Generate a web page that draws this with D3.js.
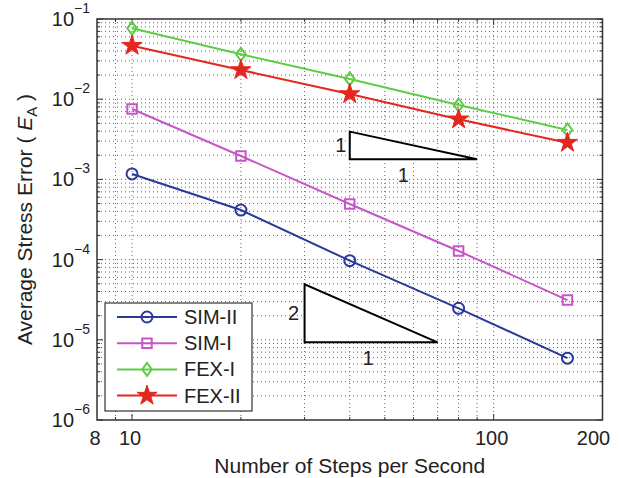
<!DOCTYPE html>
<html><head><meta charset="utf-8">
<script src="https://cdn.jsdelivr.net/npm/d3@7"></script>
<style>body{margin:0;background:#fff}svg{display:block}text{font-family:"Liberation Sans",Arial,sans-serif;fill:#222}</style>
</head><body><svg id="c" width="619" height="478"></svg>
<script>
const steps = [10, 20, 40, 80, 160];
const simII = [1.17e-3, 4.15e-4, 9.7e-5, 2.47e-5, 5.9e-6];
const simI  = [7.55e-3, 1.96e-3, 4.93e-4, 1.28e-4, 3.13e-5];
const fexI  = [7.66e-2, 3.63e-2, 1.79e-2, 8.47e-3, 4.13e-3];
const fexII = [4.65e-2, 2.31e-2, 1.16e-2, 5.61e-3, 2.87e-3];
const seriesNames = ["SIM-II", "SIM-I", "FEX-I", "FEX-II"];
const xTickValues = [8, 10, 100, 200];
const xTickLabels = ["8", "10", "100", "200"];
const yTickExponents = [-1, -2, -3, -4, -5, -6];
// slope triangles in data coordinates: [x0, x1, yBottom, yTop], labels
const triUpper = [40, 90, 1.78e-3, 3.94e-3];
const triUpperLabels = ["1", "1"];
const triLower = [30, 70, 9.3e-6, 4.92e-5];
const triLowerLabels = ["2", "1"];

const svg = d3.select("#c");
const L = 97, R = 602.5, T = 19, B = 420;
const x = d3.scaleLog().domain([8, 200]).range([L, R]);
const y = d3.scaleLog().domain([1e-6, 1e-1]).range([B, T]);

const colors = ["#2a3a9a", "#c755c7", "#5fcd44", "#e4261f"];
const data = [simII, simI, fexI, fexII];
const shapes = ["circle", "square", "diamond", "star"];

// grid
const xGrid = [9, 10, 20, 30, 40, 50, 60, 70, 80, 90, 100];
const yGrid = [];
for (let e = -6; e < -1; e++) for (let k = 1; k < 10; k++) yGrid.push(k * Math.pow(10, e));
yGrid.push(1e-1);
const g = svg.append("g").attr("stroke", "#000").attr("stroke-width", 1).attr("stroke-dasharray", "1,3").attr("opacity", 0.6);
g.selectAll(".vx").data(xGrid).join("line").attr("x1", d => x(d)).attr("x2", d => x(d)).attr("y1", T).attr("y2", B);
g.selectAll(".hy").data(yGrid.filter(d => d > 1e-6 && d < 1e-1)).join("line").attr("y1", d => y(d)).attr("y2", d => y(d)).attr("x1", L).attr("x2", R);

// ticks
const tk = svg.append("g").attr("stroke", "#333").attr("stroke-width", 1);
const xMinor = [9, 20, 30, 40, 50, 60, 70, 80, 90];
const xMajor = [10, 100];
xMinor.forEach(d => { tk.append("line").attr("x1", x(d)).attr("x2", x(d)).attr("y1", B).attr("y2", B - 3);
  tk.append("line").attr("x1", x(d)).attr("x2", x(d)).attr("y1", T).attr("y2", T + 3); });
xMajor.forEach(d => { tk.append("line").attr("x1", x(d)).attr("x2", x(d)).attr("y1", B).attr("y2", B - 6);
  tk.append("line").attr("x1", x(d)).attr("x2", x(d)).attr("y1", T).attr("y2", T + 6); });
yGrid.forEach(d => { const len = (Math.abs(Math.log10(d) - Math.round(Math.log10(d))) < 1e-9) ? 6 : 3;
  tk.append("line").attr("y1", y(d)).attr("y2", y(d)).attr("x1", L).attr("x2", L + len);
  tk.append("line").attr("y1", y(d)).attr("y2", y(d)).attr("x1", R).attr("x2", R - len); });

// axes box
svg.append("rect").attr("x", L).attr("y", T).attr("width", R - L).attr("height", B - T)
  .attr("fill", "none").attr("stroke", "#333").attr("stroke-width", 1.5);

// x tick labels
svg.selectAll(".xt").data(xTickValues).join("text").attr("x", d => x(d)).attr("dx", d => d === 200 ? -9 : -2).attr("y", 445)
  .attr("text-anchor", "middle").attr("font-size", 20).text((d, i) => xTickLabels[i]);

// y tick labels
yTickExponents.forEach(e => {
  const t = svg.append("text").attr("x", 90).attr("y", y(Math.pow(10, e)) + 7).attr("text-anchor", "end").attr("font-size", 20);
  t.append("tspan").text("10");
  t.append("tspan").attr("font-size", 14).attr("dy", -13).text("\u2212" + Math.abs(e));
});

// axis labels
svg.append("text").attr("x", (L + R) / 2).attr("y", 473).attr("text-anchor", "middle").attr("font-size", 21).text("Number of Steps per Second");
const yl = svg.append("text").attr("transform", `translate(32,${(T + B) / 2}) rotate(-90)`).attr("text-anchor", "middle").attr("font-size", 21);
yl.append("tspan").text("Average Stress Error ( ");
yl.append("tspan").attr("font-style", "italic").text("E");
yl.append("tspan").attr("font-size", 15).attr("dy", 5).text("A");
yl.append("tspan").attr("dy", -5).text(" )");

// triangles
function tri(tv, labels, lx, bx, by) {
  const [x0, x1, yb, yt] = tv;
  const p = [[x(x0), y(yt)], [x(x0), y(yb)], [x(x1), y(yb)]];
  svg.append("path").attr("d", d3.line()(p) + "Z").attr("fill", "#fff").attr("stroke", "#000").attr("stroke-width", 2);
  svg.append("text").attr("x", x(x0) - lx).attr("y", (y(yt) + y(yb)) / 2 + 7).attr("text-anchor", "middle").attr("font-size", 20).text(labels[0]);
  svg.append("text").attr("x", (x(x0) + x(x1)) / 2 + bx).attr("y", y(yb) + by).attr("text-anchor", "middle").attr("font-size", 20).text(labels[1]);
}
tri(triUpper, triUpperLabels, 9, -10, 23);
tri(triLower, triLowerLabels, 11, -3, 23);

// markers
const sym = {
  circle: d3.symbol().type(d3.symbolCircle).size(95),
  square: d3.symbol().type(d3.symbolSquare).size(90),
  star: d3.symbol().type(d3.symbolStar).size(125)
};
function drawMarker(sel, shape, c) {
  if (shape === "diamond") {
    sel.append("path").attr("d", "M0,-6.5L4.8,0L0,6.5L-4.8,0Z").attr("fill", "none").attr("stroke", c).attr("stroke-width", 2);
  } else if (shape === "star") {
    sel.append("path").attr("d", sym.star()).attr("fill", c).attr("stroke", c).attr("stroke-width", 1);
  } else {
    sel.append("path").attr("d", sym[shape]()).attr("fill", "none").attr("stroke", c).attr("stroke-width", 2);
  }
}

const line = d3.line().x(d => x(d[0])).y(d => y(d[1]));
data.forEach((vals, i) => {
  const pts = steps.map((s, j) => [s, vals[j]]);
  svg.append("path").attr("d", line(pts)).attr("fill", "none").attr("stroke", colors[i]).attr("stroke-width", 2);
  pts.forEach(p => drawMarker(svg.append("g").attr("transform", `translate(${x(p[0])},${y(p[1])})`), shapes[i], colors[i]));
});

// legend
const lg = svg.append("g");
lg.append("rect").attr("x", 105).attr("y", 303).attr("width", 147).attr("height", 108).attr("fill", "#fff").attr("stroke", "#333").attr("stroke-width", 1.2);
seriesNames.forEach((n, i) => {
  const yy = 317 + i * 26.2;
  lg.append("line").attr("x1", 117).attr("x2", 177).attr("y1", yy).attr("y2", yy).attr("stroke", colors[i]).attr("stroke-width", 2);
  drawMarker(lg.append("g").attr("transform", `translate(147,${yy})`), shapes[i], colors[i]);
  lg.append("text").attr("x", 184).attr("y", yy + 7).attr("font-size", 20).text(n);
});
</script></body></html>
